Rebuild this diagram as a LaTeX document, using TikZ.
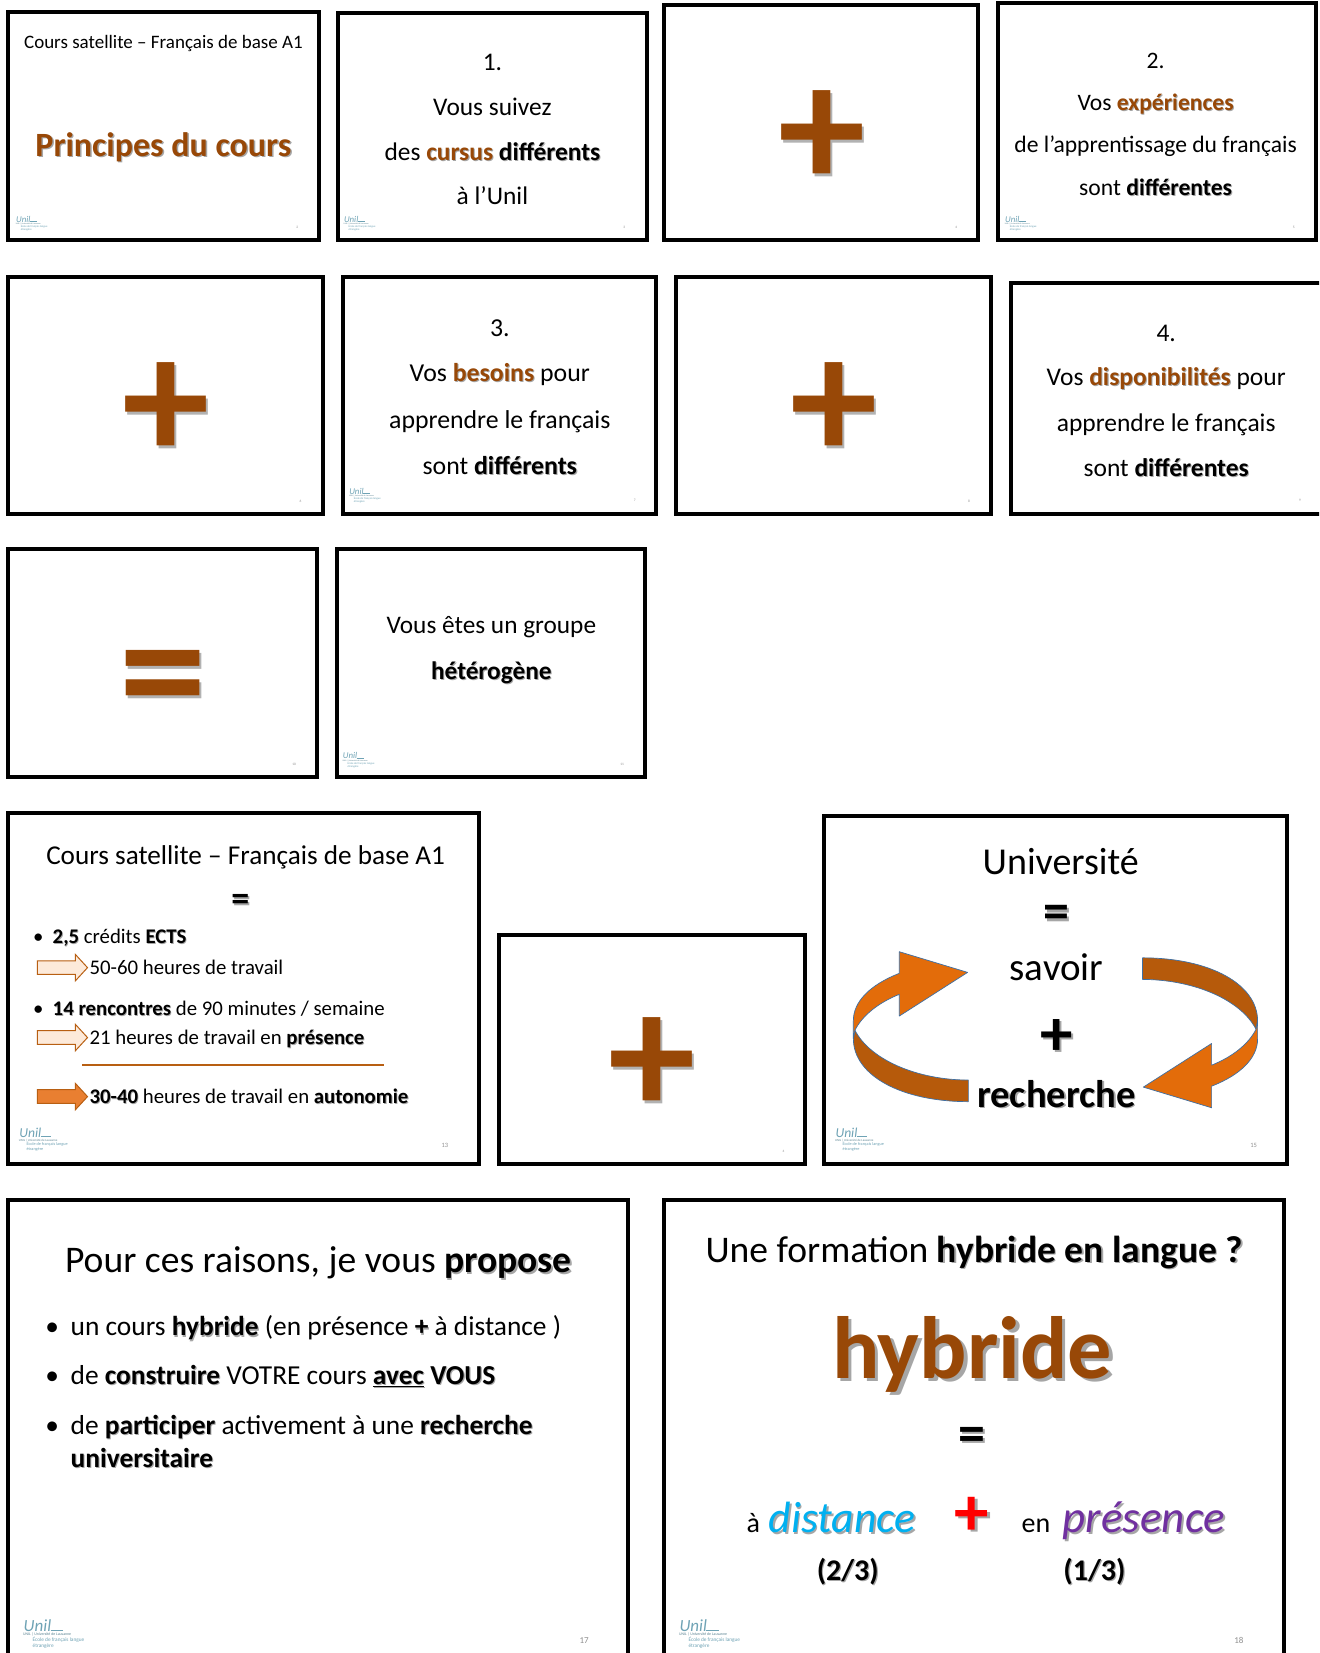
\documentclass[tikz,border=0pt]{standalone}
\usepackage{fontspec}
\setmainfont{Carlito}
\definecolor{brn}{HTML}{984807}
\definecolor{arrlight}{HTML}{FDEADA}
\definecolor{arrline}{HTML}{B85F12}
\definecolor{arrfull}{HTML}{E97F31}
\definecolor{orangeA}{HTML}{E36C0A}
\definecolor{orangeB}{HTML}{B65A0B}
\definecolor{ribline}{HTML}{3E6FA3}
\definecolor{logoc}{HTML}{6FA3B5}
\definecolor{numc}{HTML}{8F8F8F}
\definecolor{cyanT}{HTML}{00B0F0}
\definecolor{purT}{HTML}{7030A0}
\newcommand{\fs}[1]{\fontsize{#1}{#1}\selectfont}
\newcommand{\sh}[1]{\leavevmode\rlap{\hspace{.04em}\raisebox{-.04em}{\color{black!35}#1}}#1}
\newcommand{\shs}[1]{\leavevmode\rlap{\hspace{2pt}\raisebox{-3pt}{\color{black!30}#1}}#1}
\newcommand{\logo}[3]{%
  \begin{scope}[shift={(#1,#2)},scale=#3,transform shape]
    \node[logot,text=logoc,anchor=base west] (lgA) at (0.5,11) {\fs{17}\itshape Unil};
    \draw[logoc,line width=.5pt] (26,10) -- (38,10);
    \node[logot,text=logoc!80!black,anchor=base west] (lgB) at (0,15.5) {\fs{3.9}UNIL | Université de Lausanne};
    \node[logot,text=logoc,anchor=base west] (lgC) at (9,21) {\fs{5.3}École de français langue};
    \node[logot,text=logoc,anchor=base west] (lgD) at (9,26) {\fs{5.3}étrangère};
  \end{scope}}
\newcommand{\blockarr}[2]{\draw[arrline,line width=1pt,fill=#2] (35.5,#1-6.5) -- (71.5,#1-6.5) -- (71.5,#1-12.5) -- (83,#1) -- (71.5,#1+12.5) -- (71.5,#1+6.5) -- (35.5,#1+6.5) -- cycle;}
\tikzset{
  frame/.style={draw=black,line width=4pt,fill=white},
  txt/.style={inner sep=0pt,outer sep=0pt,anchor=base,text=black},
  tl/.style={txt,anchor=base west},
  sym/.style={inner sep=0pt,outer sep=0pt,anchor=center,text=black,font=\bfseries},
  logot/.style={inner sep=0pt,outer sep=0pt},
  num/.style={inner sep=0pt,outer sep=0pt,text=numc},
  ribbon/.style={draw=ribline,line width=.7pt,line join=round},
}
\begin{document}
\begin{tikzpicture}[x=1.0544pt,y=-1.0544pt]
\useasboundingbox (0,0) rectangle (1251,1567.7);
\clip (0,0) rectangle (1251,1567.7);
\fill[white] (0,0) rectangle (1251,1567.7);
% frames
\draw[frame] (7.5,11.5) rectangle (302.5,228);
\draw[frame] (320.5,12.5) rectangle (613.5,228);
\draw[frame] (629.5,4.5) rectangle (927.5,228);
\draw[frame] (946.5,2.5) rectangle (1248.5,228);
\draw[frame] (7.5,262.5) rectangle (306,487);
\draw[frame] (325,262.5) rectangle (622,487);
\draw[frame] (641,262.5) rectangle (940,487);
\draw[frame] (958.5,268.5) rectangle (1262,487);
\draw[frame] (7.5,520.5) rectangle (300.5,737);
\draw[frame] (319.5,520.5) rectangle (611.5,737);
\draw[frame] (7.5,771) rectangle (454,1104);
\draw[frame] (473.5,886.5) rectangle (763,1104);
\draw[frame] (781.5,774) rectangle (1220.5,1104);
\draw[frame] (7.5,1138) rectangle (595.5,1585);
\draw[frame] (630,1138) rectangle (1217.5,1585);
% slide 1
\node[txt] (a1) at (155,46) {\fs{19}Cours satellite – Français de base A1};
\node[txt,text=brn] (a2) at (155,148) {\fs{34}\bfseries\sh{Principes du cours}};
% slide 2
\node[txt] (b1) at (467,67) {\fs{25.4}1.};
\node[txt] (b2) at (467,110) {\fs{25.4}Vous suivez};
\node[txt] (b3) at (467,152) {\fs{25.4}des {\color{brn}\bfseries\sh{cursus}} {\bfseries\sh{différents}}};
\node[txt] (b4) at (467,194) {\fs{25.4}à l’Unil};
% slide 3
\node[sym,text=brn] (c1) at (779.5,133) {\fs{175}\shs{+}};
% slide 4
\node[txt] (d1) at (1096,65) {\fs{23.6}2.};
\node[txt] (d2) at (1096,105) {\fs{23.6}Vos {\color{brn}\bfseries\sh{expériences}}};
\node[txt] (d3) at (1096,145) {\fs{23.6}de l’apprentissage du français};
\node[txt] (d4) at (1096,185) {\fs{23.6}sont {\bfseries\sh{différentes}}};
% slide 5
\node[sym,text=brn] (e1) at (157.5,391) {\fs{175}\shs{+}};
% slide 6
\node[txt] (f1) at (474,319) {\fs{25.8}3.};
\node[txt] (f2) at (474,362) {\fs{25.8}Vos {\color{brn}\bfseries\sh{besoins}} pour};
\node[txt] (f3) at (474,406) {\fs{25.8}apprendre le français};
\node[txt] (f4) at (474,450) {\fs{25.8}sont {\bfseries\sh{différents}}};
% slide 7
\node[sym,text=brn] (g1) at (791,391) {\fs{175}\shs{+}};
% slide 8
\node[txt] (h1) at (1106,324) {\fs{25.5}4.};
\node[txt] (h2) at (1106,366) {\fs{25.5}Vos {\color{brn}\bfseries\sh{disponibilités}} pour};
\node[txt] (h3) at (1106,409) {\fs{25.5}apprendre le français};
\node[txt] (h4) at (1106,452) {\fs{25.5}sont {\bfseries\sh{différentes}}};
% slide 9
\node[sym,text=brn] (i1) at (155,655) {\fs{175}\shs{=}};
% slide 10
\node[txt] (j1) at (466,601) {\fs{25.3}Vous êtes un groupe};
\node[txt] (j2) at (466,644) {\fs{25.3}\bfseries\sh{hétérogène}};
% slide 11
\node[txt] (k1) at (233,820) {\fs{27.2}Cours satellite – Français de base A1};
\node[sym] (k2) at (228,857) {\fs{36}\sh{=}};
\node[tl] (k3) at (31.5,895) {\fs{20.8}•};
\node[tl] (k4) at (50,895) {\fs{20.8}{\bfseries\sh{2,5}} crédits {\bfseries\sh{ECTS}}};
\blockarr{917.7}{arrlight}
\node[tl] (k6) at (85,924) {\fs{20.8}50-60 heures de travail};
\node[tl] (k7) at (31.5,963) {\fs{20.8}•};
\node[tl] (k8) at (50,963) {\fs{20.8}{\bfseries\sh{14 rencontres}} de 90 minutes / semaine};
\blockarr{984}{arrlight}
\node[tl] (k10) at (85,991) {\fs{20.8}21 heures de travail en {\bfseries\sh{présence}}};
\coordinate (kA) at (78,1010);
\coordinate (kB) at (364,1010);
\draw[arrline,line width=1.2pt] (kA) -- (kB);
\blockarr{1040}{arrfull}
\node[tl] (k12) at (85,1047) {\fs{20.8}{\bfseries\sh{30-40}} heures de travail en {\bfseries\sh{autonomie}}};
% slide 12
\node[sym,text=brn] (l1) at (618,1012) {\fs{175}\shs{+}};
% slide 13
\node[txt] (m1) at (1006,829) {\fs{38}Université};
\node[sym] (m2) at (1002,871) {\fs{52}\sh{=}};
\node[txt] (m3) at (1002,930) {\fs{39}savoir};
\node[sym] (m4) at (1002,985) {\fs{65}\sh{+}};
\node[txt] (m5) at (1002,1050) {\fs{38.6}\bfseries\sh{recherche}};
\foreach \rt in {0,180}{
  \begin{scope}[rotate around={\rt:(1001,976.6)}]
    \filldraw[ribbon,fill=orangeB] (810.8,977) .. controls (825,1005) and (870,1024.3) .. (918.4,1024.3) -- (918.4,1044.8) .. controls (855,1044.8) and (809.3,1020) .. (809.3,985) -- cycle;
    \filldraw[ribbon,fill=orangeA] (917.7,922.2) -- (852.9,902.6) -- (852.9,923.1) .. controls (825,934) and (809.3,950) .. (809.3,968) -- (809.3,985) -- (810.8,977) .. controls (818,963) and (833,951) .. (852.9,943) -- (852.9,963.6) -- cycle;
  \end{scope}}
% slide 14
\node[txt] (n1) at (302,1207) {\fs{37.6}Pour ces raisons, je vous {\bfseries\sh{propose}}};
\node[tl] (n2) at (43,1267) {\fs{27.4}•};
\node[tl] (n3) at (67,1267) {\fs{27.4}un cours {\bfseries\sh{hybride}} (en présence {\bfseries\sh{+}} à distance )};
\node[tl] (n4) at (43,1313) {\fs{27.4}•};
\node[tl] (n5) at (67,1313) {\fs{27.4}de {\bfseries\sh{construire}} VOTRE cours {\bfseries\sh{\underline{avec}}} {\bfseries\sh{VOUS}}};
\node[tl] (n6) at (43,1360) {\fs{27.4}•};
\node[tl] (n7) at (67,1360) {\fs{27.4}de {\bfseries\sh{participer}} activement à une {\bfseries\sh{recherche}}};
\node[tl] (n8) at (67,1391.5) {\fs{27.4}\bfseries\sh{universitaire}};
% slide 15
\node[txt] (o1) at (924,1197) {\fs{37.6}Une formation {\bfseries\sh{hybride en langue ?}}};
\node[txt,text=brn] (o2) at (922,1307) {\fs{88.4}\bfseries\sh{hybride}};
\node[sym] (o3) at (921.5,1366) {\fs{54}\sh{=}};
\node[tl] (o4) at (708,1453) {\fs{28}à};
\node[tl,text=cyanT] (o5) at (729,1453.5) {\fs{43.8}\itshape\sh{distance}};
\node[sym,text=red] (o6) at (922,1439) {\fs{69}\sh{+}};
\node[tl] (o7) at (969,1453) {\fs{28}en};
\node[tl,text=purT] (o8) at (1008,1453.5) {\fs{45}\itshape\sh{présence}};
\node[txt] (o9) at (804,1498.5) {\fs{30}\bfseries\sh{(2/3)}};
\node[txt] (o10) at (1038,1498.5) {\fs{30}\bfseries\sh{(1/3)}};
% logos
\logo{15}{205}{.52}
\logo{326}{205}{.52}
\logo{953}{205}{.52}
\logo{331}{463}{.52}
\logo{325}{714}{.52}
\logo{18}{1070}{.8}
\logo{792}{1070}{.8}
\logo{22}{1536}{1}
\logo{644}{1536}{1}
% slide numbers
\node[num] (p1) at (282,216) {\fs{3.5}2};
\node[num] (p2) at (592,216) {\fs{3.5}3};
\node[num] (p3) at (907,216) {\fs{3.5}4};
\node[num] (p4) at (1227,216) {\fs{3.5}5};
\node[num] (p5) at (285,475) {\fs{3.5}6};
\node[num] (p6) at (602,475) {\fs{3.5}7};
\node[num] (p7) at (919,475) {\fs{3.5}8};
\node[num] (p8) at (1233,475) {\fs{3.5}9};
\node[num] (p9) at (279,725) {\fs{3.5}10};
\node[num] (p10) at (590,725) {\fs{3.5}11};
\node[num] (p11) at (422,1086) {\fs{6.5}13};
\node[num] (p12) at (743,1092) {\fs{3.5}4};
\node[num] (p13) at (1189,1086) {\fs{6.5}15};
\node[num] (p14) at (554,1556) {\fs{9}17};
\node[num] (p15) at (1175,1556) {\fs{9}18};
\end{tikzpicture}
\end{document}
